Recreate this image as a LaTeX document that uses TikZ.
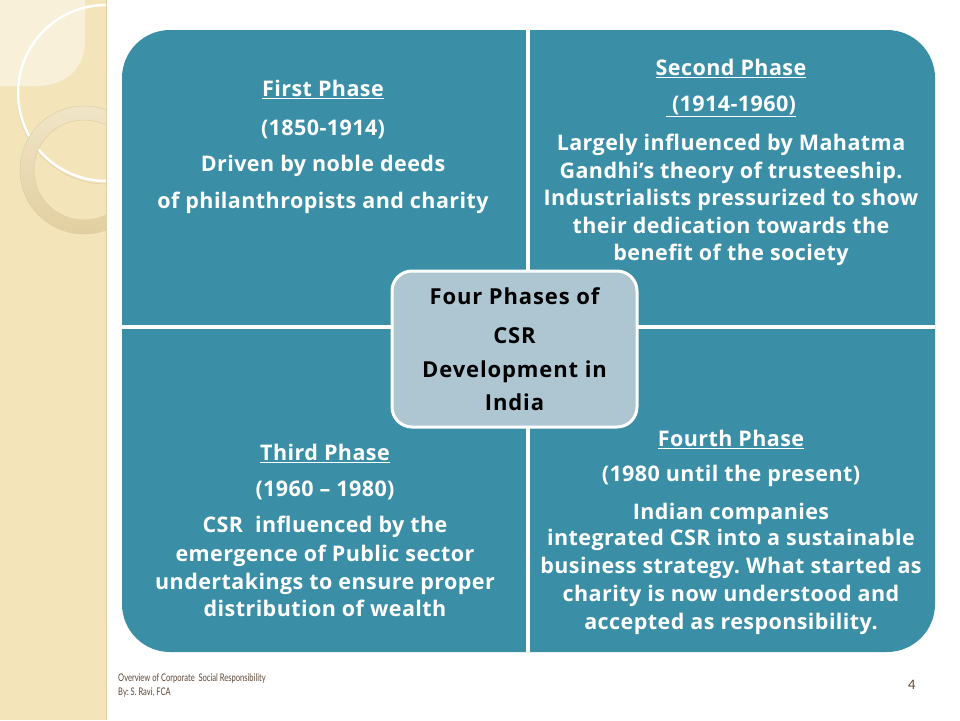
\documentclass[tikz,border=0pt]{standalone}
\usepackage{fontspec}
\setmainfont{Open Sans}
\newfontfamily\footfont{Lato}
\usetikzlibrary{positioning}
\definecolor{phaseteal}{RGB}{58,143,167}
\definecolor{hubfill}{RGB}{174,198,209}
\definecolor{stripbeige}{RGB}{243,228,186}
\definecolor{stripedge}{RGB}{222,206,166}
\definecolor{ringtop}{RGB}{240,229,200}
\definecolor{ringbottom}{RGB}{226,207,160}
\definecolor{footbrown}{RGB}{92,70,52}
\frenchspacing

\begin{document}
\begin{tikzpicture}[x=1pt,y=-1pt,
  phase/.style={text=white,align=center,inner sep=0pt,anchor=north,
    font=\bfseries\fontsize{21.5}{27.5}\selectfont\addfontfeatures{LetterSpace=2}},
  hub/.style={fill=hubfill,draw=white,line width=3pt,rounded corners=20pt,
    minimum width=245pt,minimum height=156pt,align=center,inner sep=0pt,
    font=\bfseries\fontsize{22}{34}\selectfont\addfontfeatures{LetterSpace=4}},
  foot/.style={text=footbrown,inner sep=0pt,anchor=base west,
    font=\footfont\fontsize{10.5}{14}\selectfont}]
\useasboundingbox (0,0) rectangle (960,720);
\fill[white] (0,0) rectangle (960,720);
% Decorative strip on the left
\begin{scope}
\clip (0,0) rectangle (106,720);
\fill[stripbeige] (0,0) rectangle (106,720);
\fill[white,opacity=.45] (0,0) -- (85,0) -- (85,40) .. controls (85,70) and (65,86) .. (35,86) -- (0,86) -- cycle;
\draw[stripedge,line width=.6pt] (106.5,94.5) circle (89.5);
\draw[white,line width=2.5pt] (106,93) circle (88);
\shade[even odd rule,top color=ringtop,bottom color=ringbottom] (84,170) circle (64) (84,170) circle (50);
\draw[stripedge,line width=.5pt] (84,170) circle (64) (84,170) circle (50);
\end{scope}
\draw[stripedge,line width=1pt] (106,0) -- (106,720);
% The four quadrants
\fill[phaseteal,rounded corners=48pt] (122,30) rectangle (935,652);
\draw[white,line width=4pt] (528,30) -- (528,652);
\draw[white,line width=4pt] (122,327) -- (935,327);
% Phase texts
\node[phase] (first) at (323,80)
  {\underline{First Phase}\\[11.5pt] (1850-1914)\\[8.5pt] Driven by noble deeds\\[9.5pt]
   of philanthropists and charity};
\node[phase] (second) at (731,59)
  {\underline{Second Phase}\\[8.5pt] \underline{\ (1914-1960)}\\[11.5pt]
   Largely influenced by Mahatma\\ Gandhi’s theory of trusteeship.\\
   Industrialists pressurized to show\\ their dedication towards the\\
   benefit of the society};
\node[phase] (third) at (325,444)
  {\underline{Third Phase}\\[8.5pt] (1960 – 1980)\\[8.5pt]
   CSR\ \ influenced by the\\[1.5pt] emergence of Public sector\\
   undertakings to ensure proper\\ distribution of wealth};
\node[phase] (fourth) at (731,430)
  {\underline{Fourth Phase}\\[7.5pt] (1980 until the present)\\[10.5pt]
   Indian companies\\[-1.5pt] integrated CSR into a sustainable\\[.5pt]
   business strategy. What started as\\[.5pt] charity is now understood and\\[.5pt]
   accepted as responsibility.};
% Centre hub
\node[hub] (hub) at (514.5,349) {Four Phases of\\[5pt] CSR\\ Development in\\[-1pt] India};
% Footer
\node[foot] (course) at (118,681) {\scalebox{.72}[1]{Overview of Corporate\ \ Social Responsibility}};
\node[foot] (byline) at (118,695) {\scalebox{.72}[1]{By: S. Ravi, FCA}};
\node[foot,font=\footfont\fontsize{13}{14}\selectfont] (page) at (908,689) {4};
\end{tikzpicture}
\end{document}
